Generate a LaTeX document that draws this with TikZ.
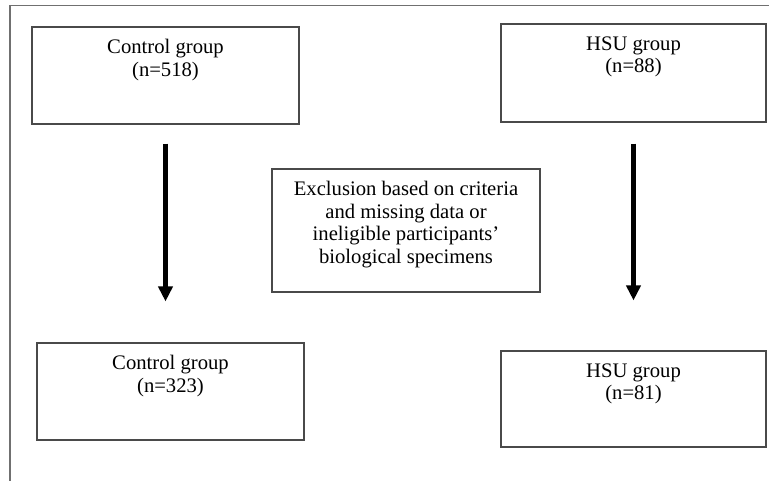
\documentclass[tikz,border=0pt]{standalone}
\usepackage{fontspec}
\setmainfont{Liberation Serif}
\usetikzlibrary{arrows.meta}

\definecolor{boxline}{HTML}{4A4A4A}
\definecolor{framegray}{HTML}{707070}

\tikzset{
    group/.style={draw=boxline, line width=0.8pt, inner sep=0pt},
    grouptext/.style={anchor=north, inner sep=0pt, yshift=-9.5pt, align=center,
        font=\fontsize{15.5pt}{16.9pt}\selectfont},
    flow/.style={line width=3.75pt, -{Triangle[width=10.5pt,length=11.25pt]}}
}

\begin{document}
\begin{tikzpicture}[x=0.75pt, y=-0.75pt]
\useasboundingbox (0,0) rectangle (769,481);
\draw[framegray, line width=0.9pt] (10,481) -- (10,5.5) -- (769,5.5);

\node (ctrlA) [group, minimum width=200.25pt, minimum height=72.75pt,
    label={[grouptext]north:Control group\\(n=518)}] at (165.5,75.5) {};
\node (hsuA) [group, minimum width=198.75pt, minimum height=73.5pt,
    label={[grouptext]north:HSU group\\(n=88)}] at (633.5,73) {};
\node (excl) [group, minimum width=201pt, minimum height=92.25pt,
    label={[grouptext]north:Exclusion based on criteria\\and missing data or\\ineligible participants’\\biological specimens}] at (406,230.5) {};
\node (ctrlB) [group, minimum width=200.25pt, minimum height=72.75pt,
    label={[grouptext]north:Control group\\(n=323)}] at (170.5,391.5) {};
\node (hsuB) [group, minimum width=198.75pt, minimum height=72pt,
    label={[grouptext]north:HSU group\\(n=81)}] at (633.5,399) {};

\draw[flow, shorten <=14.25pt, shorten >=30.75pt] (ctrlA.south) -- (ctrlA.south |- ctrlB.north);
\draw[flow, shorten <=15.75pt, shorten >=37.5pt] (hsuA.south) -- (hsuA.south |- hsuB.north);
\end{tikzpicture}
\end{document}
